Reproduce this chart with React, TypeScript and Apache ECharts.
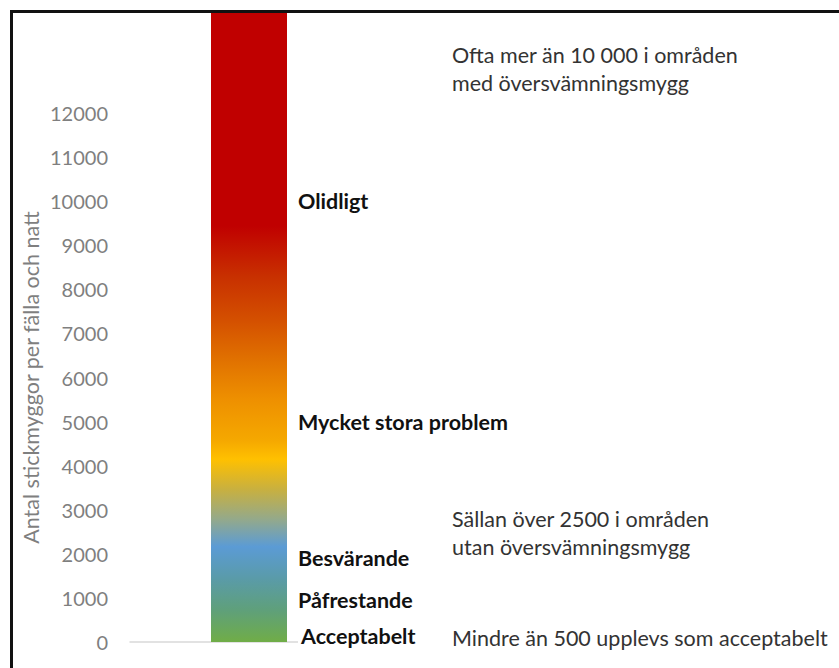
import React, { useEffect, useRef } from "react";
import * as echarts from "echarts";

const categories = ["Stickmyggor"];
const barValues = [14300];
const yTicks = { min: 0, max: 12000, interval: 1000 };

const levelNames = ["Olidligt", "Mycket stora problem", "Besvärande", "Påfrestande", "Acceptabelt"];
const levelValues = [10000, 5000, 1900, 950, 130];

const noteTexts = [
  "Ofta mer än 10 000 i områden\nmed översvämningsmygg",
  "Sällan över 2500 i områden\nutan översvämningsmygg",
  "Mindre än 500 upplevs som acceptabelt",
];
const noteValues = [13000, 2480, 100];

const gradientStops = [
  { offset: 0, color: "#C00000" },
  { offset: 0.34, color: "#C00000" },
  { offset: 0.42, color: "#C83000" },
  { offset: 0.49, color: "#D45000" },
  { offset: 0.55, color: "#E07000" },
  { offset: 0.615, color: "#EE9000" },
  { offset: 0.68, color: "#F5A800" },
  { offset: 0.71, color: "#FFC000" },
  { offset: 0.758, color: "#C8B040" },
  { offset: 0.806, color: "#93A98C" },
  { offset: 0.849, color: "#5B9BD5" },
  { offset: 0.9, color: "#5A9BA8" },
  { offset: 0.95, color: "#5FA07A" },
  { offset: 1, color: "#70AD47" },
];

const FONT = "Lato, 'Open Sans', sans-serif";

export default function App() {
  const ref = useRef<HTMLDivElement>(null);
  useEffect(() => {
    document.body.style.margin = "0";
    if (!ref.current) return;
    const chart = echarts.init(ref.current, null, { renderer: "svg" });
    const gridTop = 113;
    const gridHeight = 529;
    const pxPerUnit = gridHeight / (yTicks.max - yTicks.min);
    const levelPoints = levelNames.map((name, i) => ({
      coord: [0, levelValues[i]],
      label: {
        formatter: name,
        fontWeight: "bold" as const,
        color: "#111111",
        fontSize: 21.5,
        position: [49, 0] as any,
        align: "left" as const,
        verticalAlign: "middle" as const,
        backgroundColor: name === "Acceptabelt" ? "#ffffff" : "transparent",
        padding: name === "Acceptabelt" ? [2, 4, 2, 3] : 0,
      },
    }));
    const notePoints = noteTexts.map((t, i) => {
      const v = Math.min(noteValues[i], yTicks.max);
      const extra = (noteValues[i] - v) * pxPerUnit;
      return {
        coord: [0, v],
        label: {
          formatter: t,
          color: "#333333",
          fontSize: 21.5,
          lineHeight: 28,
          position: [203, -extra] as any,
          align: "left" as const,
          verticalAlign: "middle" as const,
        },
      };
    });
    chart.setOption({
      animation: false,
      textStyle: { fontFamily: FONT },
      grid: { left: 130, top: gridTop, width: 238, height: gridHeight },
      xAxis: {
        type: "category",
        data: categories,
        axisLine: { lineStyle: { color: "#d9d9d9", width: 1.5 } },
        axisTick: { show: false },
        axisLabel: { show: false },
      },
      yAxis: {
        type: "value",
        min: yTicks.min,
        max: yTicks.max,
        interval: yTicks.interval,
        name: "Antal stickmyggor per fälla och natt",
        nameLocation: "middle",
        nameGap: 88,
        nameTextStyle: { color: "#7f7f7f", fontSize: 21.5, fontFamily: FONT },
        axisLine: { show: false },
        axisTick: { show: false },
        splitLine: { show: false },
        axisLabel: {
          color: "#7f7f7f",
          fontSize: 20,
          margin: 22,
          fontFamily: FONT,
          formatter: (v: number) => String(v),
        },
      },
      series: [
        {
          type: "bar",
          data: barValues,
          barWidth: 76,
          clip: false,
          itemStyle: {
            color: new echarts.graphic.LinearGradient(0, 0, 0, 1, gradientStops),
          },
          markPoint: {
            symbol: "circle",
            symbolSize: 0,
            silent: true,
            data: [...levelPoints, ...notePoints],
          },
        },
      ],
      graphic: [
        {
          type: "polyline",
          shape: { points: [[11.5, 700], [11.5, 11.5], [900, 11.5]] },
          style: { fill: "none", stroke: "#111111", lineWidth: 3 },
          z: 100,
        },
      ],
    });
    return () => chart.dispose();
  }, []);
  return <div ref={ref} style={{ width: 839, height: 668 }} />;
}
